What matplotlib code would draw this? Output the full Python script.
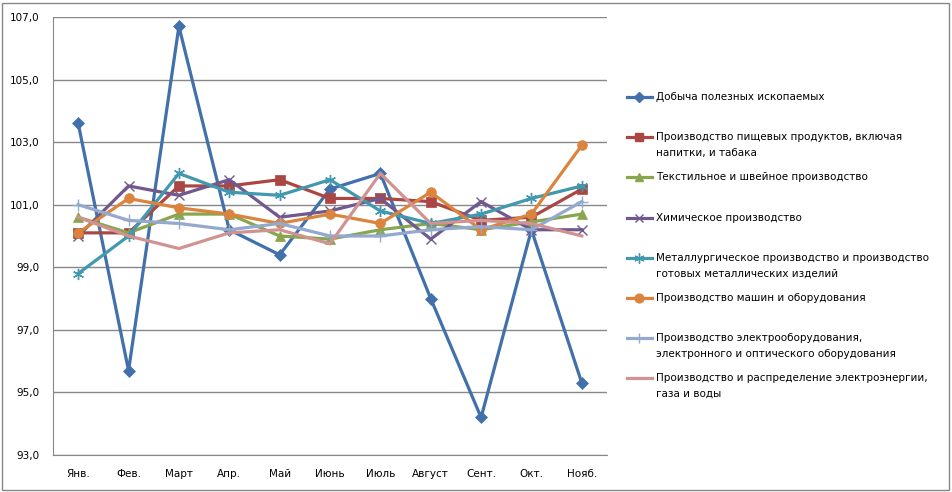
import numpy as np
import matplotlib
matplotlib.use("Agg")
import matplotlib.pyplot as plt
from matplotlib.lines import Line2D
from matplotlib.patches import Rectangle

# ── данные ──────────────────────────────────────────────────────────────
months = ["Янв.", "Фев.", "Март", "Апр.", "Май", "Июнь", "Июль",
          "Август", "Сент.", "Окт.", "Нояб."]

mining   = [103.6, 95.7, 106.7, 100.2, 99.4, 101.5, 102.0, 98.0, 94.2, 100.2, 95.3]
food     = [100.1, 100.1, 101.6, 101.6, 101.8, 101.2, 101.2, 101.1, 100.5, 100.6, 101.5]
textile  = [100.6, 100.1, 100.7, 100.7, 100.0, 99.9, 100.2, 100.4, 100.2, 100.45, 100.7]
chemical = [100.0, 101.6, 101.3, 101.8, 100.6, 100.8, 101.2, 99.9, 101.1, 100.2, 100.2]
metal    = [98.8, 100.0, 102.0, 101.4, 101.3, 101.8, 100.8, 100.4, 100.7, 101.2, 101.6]
machines = [100.1, 101.2, 100.9, 100.7, 100.4, 100.7, 100.4, 101.4, 100.2, 100.7, 102.9]
electro  = [101.0, 100.5, 100.4, 100.2, 100.4, 100.0, 100.0, 100.2, 100.3, 100.2, 101.1]
energy   = [100.6, 100.0, 99.6, 100.1, 100.2, 99.75, 102.0, 100.4, 100.5, 100.4, 100.0]

labels = [
    "Добыча полезных ископаемых",
    "Производство пищевых продуктов, включая\nнапитки, и табака",
    "Текстильное и швейное производство",
    "Химическое производство",
    "Металлургическое производство и производство\nготовых металлических изделий",
    "Производство машин и оборудования",
    "Производство электрооборудования,\nэлектронного и оптического оборудования",
    "Производство и распределение электроэнергии,\nгаза и воды",
]
y_ticks = [93, 95, 97, 99, 101, 103, 105, 107]

series = [mining, food, textile, chemical, metal, machines, electro, energy]
colors = ["#4170AA", "#AA4643", "#89A54E", "#71588F",
          "#4198AF", "#DB843D", "#93A9CF", "#D19392"]
markers = ["D", "s", "^", "x", (6, 2, 0), "o", "+", None]
msizes = [6, 7, 7, 7, 8, 7, 8, 0]

# ── фигура ──────────────────────────────────────────────────────────────
W, H = 953, 492
fig = plt.figure(figsize=(W / 100, H / 100), dpi=100)
fig.patch.set_facecolor("white")
fig.patches.append(Rectangle((2 / W, 2 / H), 947 / W, 487 / H,
                             transform=fig.transFigure, fill=False,
                             edgecolor="#888888", linewidth=1.0))

ax = fig.add_axes([53 / W, 1 - 455 / H, 554 / W, 438 / H])
x = np.arange(len(months))

for vals, c, m, ms in zip(series, colors, markers, msizes):
    ax.plot(x, vals, color=c, linewidth=2.3, marker=m, markersize=ms,
            markeredgewidth=1.0 if m in ("x", "+", (6, 2, 0)) else 0.5,
            markeredgecolor=c, markerfacecolor=c, solid_joinstyle="miter")

ax.set_xlim(-0.5, len(months) - 0.5)
ax.set_ylim(93, 107)
ax.set_yticks(y_ticks)
ax.set_yticklabels([f"{v:.1f}".replace(".", ",") for v in y_ticks])
ax.set_xticks(x)
ax.set_xticklabels(months)
ax.yaxis.grid(True, color="#888888", linewidth=1.0)
ax.set_axisbelow(True)
ax.tick_params(axis="both", length=0, labelsize=7.5, colors="black")
ax.tick_params(axis="x", pad=10)
ax.tick_params(axis="y", pad=10)
for side in ("top", "right"):
    ax.spines[side].set_visible(False)
ax.spines["left"].set_color("#888888")
ax.spines["bottom"].set_color("#888888")

# ── легенда (вручную) ───────────────────────────────────────────────────
legend_y = [97, 137, 177, 218, 258, 298, 338, 378]
for ly, lab, c, m, ms in zip(legend_y, labels, colors, markers, msizes):
    yf = 1 - ly / H
    fig.add_artist(Line2D([627 / W, 652 / W], [yf, yf], transform=fig.transFigure,
                          color=c, linewidth=2.3))
    if m is not None:
        fig.add_artist(Line2D([639.5 / W], [yf], transform=fig.transFigure,
                              color=c, marker=m, markersize=ms * 0.9,
                              markeredgecolor=c, markerfacecolor=c,
                              markeredgewidth=1.0))
    for i, line in enumerate(lab.split("\n")):
        fig.text(656 / W, 1 - (ly + 16 * i) / H, line, ha="left",
                 va="center", fontsize=7.5)

fig.savefig("out.png", dpi=100, facecolor="white")
